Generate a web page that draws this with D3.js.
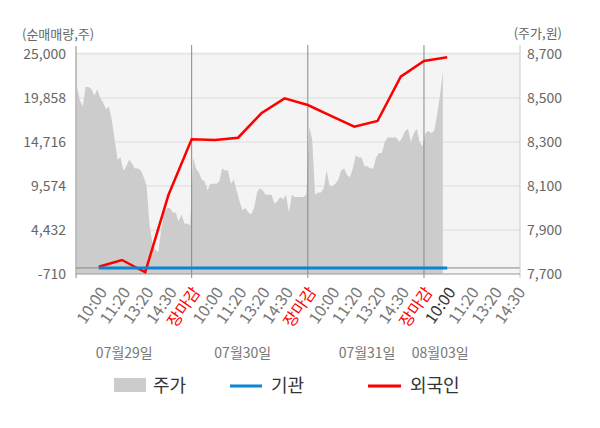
<!DOCTYPE html>
<html>
<head>
<meta charset="utf-8">
<script src="https://d3js.org/d3.v7.min.js"></script>
<style>
body { margin: 0; background: #fff; }
svg { font-family: "Noto Sans CJK KR", "Noto Sans", sans-serif; }
</style>
</head>
<body>
<svg width="600" height="428"></svg>
<script>

var timeLabels = ["10:00", "11:20", "13:20", "14:30", "장마감",
                  "10:00", "11:20", "13:20", "14:30", "장마감",
                  "10:00", "11:20", "13:20", "14:30", "장마감",
                  "10:00", "11:20", "13:20", "14:30"];
var dayLabels = ["07월29일", "07월30일", "07월31일", "08월03일"];

var leftTicks = [-710, 4432, 9574, 14716, 19858, 25000];
var rightTicks = [7700, 7900, 8100, 8300, 8500, 8700];

// 주가 (intraday, 8 samples per time slot)
var price0729 = [8550, 8490, 8460, 8550, 8550, 8540, 8510, 8540, 8500, 8480,
                 8450, 8460, 8400, 8310, 8220, 8230, 8170, 8190, 8220, 8200,
                 8180, 8180, 8170, 8140, 8100, 7920, 7840, 7810, 7800, 7900,
                 7980, 8000, 8000, 7980, 7980, 7940, 7970, 7930, 7930, 7920];
var price0730 = [8230, 8180, 8160, 8130, 8120, 8080, 8110, 8110, 8110, 8120,
                 8180, 8170, 8170, 8110, 8130, 8080, 8030, 7990, 8000, 7980,
                 7970, 8000, 8070, 8090, 8080, 8060, 8060, 8060, 8020, 8030,
                 8050, 8040, 8060, 7980, 8060, 8050, 8050, 8050, 8050, 8060];
var price0731 = [8370, 8310, 8060, 8070, 8070, 8090, 8170, 8100, 8100, 8110,
                 8130, 8170, 8180, 8150, 8140, 8180, 8240, 8230, 8230, 8190,
                 8190, 8180, 8180, 8230, 8250, 8250, 8300, 8320, 8320, 8320,
                 8320, 8300, 8320, 8350, 8360, 8300, 8340, 8360, 8300, 8280];
var price0803 = [8340, 8350, 8340, 8350, 8420, 8510, 8620];

// 순매매량 at each time label
var institution = [0, 0, 0, 0, 0, 0, 0, 0, 0, 0, 0, 0, 0, 0, 0, 0];
var foreign = [140, 930, -510, 8520, 15030, 14950, 15220, 18070, 19820,
               19040, 17770, 16500, 17170, 22350, 24180, 24610];

var price = price0729.concat(price0730, price0731, price0803);

var svg = d3.select("svg");
var plotLeft = 76, plotRight = 520, plotTop = 54, plotBottom = 274;

var x = d3.scaleLinear().domain([0, 19]).range([75.5, 516.9]);
var yL = d3.scaleLinear().domain([-710, 25000]).range([plotBottom, plotTop]);
var yR = d3.scaleLinear().domain([7700, 8700]).range([plotBottom, plotTop]);
var fmt = function(v) { return d3.format(",")(v).replace("\u2212", "-"); };

svg.append("rect")
    .attr("x", plotLeft).attr("y", plotTop - 2)
    .attr("width", plotRight - plotLeft).attr("height", plotBottom - plotTop + 2)
    .attr("fill", "#f4f4f4");

// grid
svg.append("g").selectAll("line")
  .data(leftTicks.slice(1))
  .enter().append("line")
    .attr("x1", plotLeft).attr("x2", plotRight)
    .attr("y1", function(d) { return yL(d); })
    .attr("y2", function(d) { return yL(d); })
    .attr("stroke", "#dcdcdc").attr("stroke-width", 1);

// price area
var area = d3.area()
    .x(function(d, i) { return x((i + 0.5) / 8); })
    .y0(yR(7700))
    .y1(function(d) { return yR(d); });

svg.append("path")
    .datum(price)
    .attr("d", area)
    .attr("fill", "#cccccc");

// zero line
svg.append("line")
    .attr("x1", plotLeft).attr("x2", plotRight)
    .attr("y1", yL(0)).attr("y2", yL(0))
    .attr("stroke", "#888").attr("stroke-width", 1);

// day separators
svg.append("g").selectAll("line")
  .data([5, 10, 15])
  .enter().append("line")
    .attr("x1", function(d) { return x(d); })
    .attr("x2", function(d) { return x(d); })
    .attr("y1", 45).attr("y2", plotBottom + 4)
    .attr("stroke", "#888").attr("stroke-width", 1);

// axes frame
svg.append("line")
    .attr("x1", plotLeft).attr("x2", plotLeft).attr("y1", 46).attr("y2", plotBottom + 4)
    .attr("stroke", "#888");
svg.append("line")
    .attr("x1", plotRight).attr("x2", plotRight).attr("y1", 45).attr("y2", plotBottom + 4)
    .attr("stroke", "#ccc");
svg.append("line")
    .attr("x1", plotLeft).attr("x2", plotRight).attr("y1", plotBottom).attr("y2", plotBottom)
    .attr("stroke", "#999");

// lines
var line = d3.line()
    .x(function(d, i) { return x(i + 1); })
    .y(function(d) { return yL(d); });

svg.append("path")
    .datum(foreign)
    .attr("d", line)
    .attr("fill", "none")
    .attr("stroke", "#ff0000")
    .attr("stroke-width", 2.5);

svg.append("path")
    .datum(institution)
    .attr("d", line)
    .attr("fill", "none")
    .attr("stroke", "#0a84d4")
    .attr("stroke-width", 3);

// y tick labels
svg.append("g").selectAll("text")
  .data(leftTicks)
  .enter().append("text")
    .attr("x", 66)
    .attr("y", function(d) { return yL(d); })
    .attr("dy", "0.35em")
    .attr("text-anchor", "end")
    .attr("font-size", 14)
    .attr("fill", "#666")
    .text(function(d) { return fmt(d); });

svg.append("g").selectAll("text")
  .data(rightTicks)
  .enter().append("text")
    .attr("x", 527)
    .attr("y", function(d) { return yR(d); })
    .attr("dy", "0.35em")
    .attr("font-size", 14)
    .attr("fill", "#666")
    .text(function(d) { return fmt(d); });

svg.append("text")
    .attr("x", 22).attr("y", 34).attr("dy", "0.35em")
    .attr("font-size", 13).attr("fill", "#666")
    .text("(순매매량,주)");
svg.append("text")
    .attr("x", 562).attr("y", 33).attr("dy", "0.35em")
    .attr("text-anchor", "end")
    .attr("font-size", 13).attr("fill", "#666")
    .text("(주가,원)");

// x labels
svg.append("g").selectAll("text")
  .data(timeLabels)
  .enter().append("text")
    .attr("transform", function(d, i) {
      return "translate(" + (x(i + 1) + 4.6) + ",289) rotate(-55)";
    })
    .attr("dy", "0.35em")
    .attr("text-anchor", "end")
    .attr("font-size", 16)
    .attr("fill", function(d, i) {
      if (d == "장마감") return "#ff0000";
      if (i == 15) return "#333";
      return "#777";
    })
    .text(function(d) { return d; });

svg.append("g").selectAll("text")
  .data(dayLabels)
  .enter().append("text")
    .attr("x", function(d, i) { return x([2.1, 7.2, 12.55, 15.7][i]); })
    .attr("y", 353)
    .attr("dy", "0.35em")
    .attr("text-anchor", "middle")
    .attr("font-size", 14)
    .attr("fill", "#777")
    .text(function(d) { return d; });

// legend
var legend = svg.append("g").attr("font-size", 18).attr("fill", "#333");
legend.append("rect")
    .attr("x", 114).attr("y", 378).attr("width", 32).attr("height", 14)
    .attr("fill", "#cccccc");
legend.append("text").attr("x", 153).attr("y", 386).attr("dy", "0.35em").text("주가");
legend.append("line")
    .attr("x1", 230).attr("x2", 262).attr("y1", 386).attr("y2", 386)
    .attr("stroke", "#0a84d4").attr("stroke-width", 3);
legend.append("text").attr("x", 271).attr("y", 386).attr("dy", "0.35em").text("기관");
legend.append("line")
    .attr("x1", 368).attr("x2", 401).attr("y1", 386).attr("y2", 386)
    .attr("stroke", "#ff0000").attr("stroke-width", 3);
legend.append("text").attr("x", 410).attr("y", 386).attr("dy", "0.35em").text("외국인");

</script>
</body>
</html>
